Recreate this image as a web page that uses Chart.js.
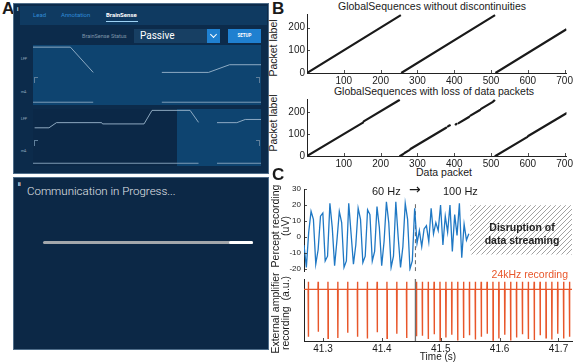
<!DOCTYPE html>
<html>
<head>
<meta charset="utf-8">
<script src="https://cdn.jsdelivr.net/npm/chart.js@4/dist/chart.umd.min.js"></script>
<style>
  body { margin: 0; width: 575px; height: 364px; position: relative; background: #fff; overflow: hidden;
         font-family: 'Liberation Sans', Arial, sans-serif; color: #1a1a1a; }
  .abs { position: absolute; }
  .panel { position: absolute; font-weight: bold; font-size: 17px; line-height: 17px; }
  .txt { position: absolute; white-space: nowrap; font-size: 10.5px; line-height: 12px; }
  .rot { position: absolute; white-space: nowrap; font-size: 10.5px; line-height: 9.5px; text-align: center;
         transform: translate(-50%, -50%) rotate(-90deg); }
  .ui { font-family: Roboto, 'Noto Sans', sans-serif; }
</style>
</head>
<body>

<!-- Panel A (i) : BrainSense screen -->
<div class="panel" style="left:2px;top:0px">A</div>
<div class="abs" style="left:13px;top:3px;width:254px;height:169px;background:#0c2b4b;border:1px solid #4f6d89"></div>
<div class="abs ui" style="left:17px;top:6px;color:#fff;font-size:5px;font-weight:bold">i</div>
<div class="abs" style="left:20px;top:6px;width:247px;height:19px;background:#0f3a61"></div>
<div class="abs ui" style="left:33px;top:11px;color:#2f8ad6;font-size:6px">Lead</div>
<div class="abs ui" style="left:61px;top:11px;color:#2f8ad6;font-size:6px">Annotation</div>
<div class="abs ui" style="left:106px;top:11px;color:#fff;font-size:6px;font-weight:bold">BrainSense</div>
<div class="abs" style="left:106px;top:21px;width:32px;height:1px;background:#9fd3f5"></div>
<div class="abs ui" style="left:82px;top:33px;color:#7d94aa;font-size:5.5px">BrainSense Status</div>
<div class="abs" style="left:134px;top:29px;width:73px;height:14px;background:#173f63"></div>
<div class="abs ui" style="left:140px;top:30px;color:#fff;font-size:10px;line-height:12px">Passive</div>
<div class="abs" style="left:207px;top:29px;width:13px;height:14px;background:#1f80d0"></div>
<div class="abs" style="left:211px;top:32px;width:4px;height:4px;border-right:1px solid #fff;border-bottom:1px solid #fff;transform:rotate(45deg)"></div>
<div class="abs" style="left:228px;top:29px;width:33px;height:14px;background:#1f80d0"></div>
<div class="abs ui" style="left:228px;top:33px;width:33px;text-align:center;color:#fff;font-size:4.5px;font-weight:bold">SETUP</div>
<div class="abs" style="left:33px;top:45px;width:228px;height:60px;background:#0e4470"></div>
<div class="abs" style="left:33px;top:109px;width:144px;height:57px;background:#0b2847"></div>
<div class="abs" style="left:177px;top:109px;width:84px;height:57px;background:#0e4470"></div>
<div class="abs ui" style="left:21px;top:57px;color:#9fb3c6;font-size:3.5px">LFP</div>
<div class="abs ui" style="left:21px;top:90px;color:#9fb3c6;font-size:3.5px">mA</div>
<div class="abs ui" style="left:21px;top:117px;color:#9fb3c6;font-size:3.5px">LFP</div>
<div class="abs ui" style="left:21px;top:149px;color:#9fb3c6;font-size:3.5px">mA</div>
<div class="abs" style="left:34px;top:77px;width:3px;height:5px;border-left:1px solid #5f7f9b;border-top:1px solid #5f7f9b"></div>
<div class="abs" style="left:256px;top:77px;width:3px;height:5px;border-right:1px solid #5f7f9b;border-top:1px solid #5f7f9b"></div>
<div class="abs" style="left:34px;top:140px;width:3px;height:5px;border-left:1px solid #5f7f9b;border-top:1px solid #5f7f9b"></div>
<div class="abs" style="left:256px;top:140px;width:3px;height:5px;border-right:1px solid #5f7f9b;border-top:1px solid #5f7f9b"></div>
<div class="abs" style="left:33px;top:45px"><canvas id="aTop" width="228" height="60"></canvas></div>
<div class="abs" style="left:33px;top:109px"><canvas id="aBot" width="228" height="57"></canvas></div>

<!-- Panel A (ii) : communication screen -->
<div class="abs" style="left:13px;top:177px;width:254px;height:171px;background:#0c2846;border:1px solid #4f6d89"></div>
<div class="abs ui" style="left:18px;top:181px;color:#fff;font-size:5px;font-weight:bold">ii</div>
<div class="abs ui" style="left:27px;top:185px;color:#e2e6ea;font-size:11.5px;font-weight:300;line-height:13px">Communication in Progress...</div>
<div class="abs" style="left:43px;top:241px;width:210px;height:3px;border-radius:2px;background:#a3a7ab"></div>
<div class="abs" style="left:229px;top:241px;width:24px;height:3px;border-radius:2px;background:#fff"></div>

<!-- Panel B -->
<div class="panel" style="left:272px;top:0px">B</div>
<div class="txt" style="left:312px;top:0px;width:240px;text-align:center">GlobalSequences without discontinuities</div>
<div class="txt" style="left:314px;top:85px;width:240px;text-align:center">GlobalSequences with loss of data packets</div>
<div class="txt" style="left:394px;top:166px;width:100px;text-align:center">Data packet</div>
<div class="rot" style="left:274px;top:48px">Packet label</div>
<div class="rot" style="left:274px;top:123px">Packet label</div>
<div class="abs" style="left:266px;top:0px"><canvas id="bTop" width="309" height="88"></canvas></div>
<div class="abs" style="left:266px;top:88px"><canvas id="bBot" width="309" height="82"></canvas></div>

<!-- Panel C -->
<div class="panel" style="left:272px;top:166px">C</div>
<div class="rot" style="left:280px;top:226px">Percept recording<br>(uV)</div>
<div class="rot" style="left:280px;top:313px">External amplifier<br>recording&nbsp; (a.u.)</div>
<div class="abs" style="left:266px;top:180px"><canvas id="cTop" width="309" height="99"></canvas></div>
<div class="abs" style="left:266px;top:279px"><canvas id="cBot" width="309" height="85"></canvas></div>
<div class="txt" style="left:372px;top:185px;font-size:11px">60 Hz</div>
<div class="txt" style="left:409px;top:183px;font-size:14px;font-family:'DejaVu Sans'">&#8594;</div>
<div class="txt" style="left:443px;top:185px;font-size:11px">100 Hz</div>
<div class="txt" style="left:472px;top:221px;width:100px;text-align:center;font-weight:bold;font-size:10.5px;line-height:13px;color:#222">Disruption of<br>data streaming</div>
<div class="txt" style="left:468px;top:268px;width:100px;text-align:right;color:#e8562a">24kHz recording</div>
<div class="txt" style="left:398px;top:351px;width:80px;text-align:center;font-size:10px">Time (s)</div>

<script>
// ---- Panel A: traces shown on the BrainSense screen (x 0-100, y 0-1)
const aTopX = [0, 16.4, 26.4, 26.5, 56.5, 77, 86.2, 100];
const aTopY = [0.983, 0.983, 0.545, null, 0.545, 0.545, 0.678, 0.678];
const aTopBaseX = [0, 26.4, 26.5, 56.5, 100];
const aTopBaseY = [0.028, 0.028, null, 0.028, 0.028];
const aBotX = [0.7, 7.0, 10.3, 30.1, 30.5, 48.7, 52.2, 68.9, 72.6, 72.7, 80.7, 89.4, 93.1, 100];
const aBotY = [0.677, 0.677, 0.771, 0.771, 0.748, 0.748, 0.995, 0.995, 0.776, null, 0.771, 0.771, 0.829, 0.829];
const aBotBaseX = [0, 72.6, 72.7, 80.7, 100];
const aBotBaseY = [0.03, 0.03, null, 0.03, 0.03];

// ---- Panel B: GlobalSequence label vs data packet
// each segment: [first packet, its label, last packet, its label]
const seqTicksX = [100, 200, 300, 400, 500, 600, 700];
const seqTicksY = [0, 100, 200];
const seqFull = [[0, 0, 255, 255], [256, 0, 511, 255], [512, 0, 705, 193]];
const seqLoss = [
  [0, 0, 152, 152], [154, 158, 250, 254],
  [253, 0, 262, 9], [265, 14, 278, 27], [281, 32, 378, 129], [383, 135, 388, 140], [404, 144, 406, 146],
  [412, 150, 440, 178], [444, 184, 470, 210], [473, 215, 505, 247], [507, 251, 509, 253],
  [512, 0, 598, 86], [601, 91, 705, 195]
];

// ---- Panel C: Percept LFP (250 Hz) and external amplifier pulses
const percStart = 41.2677;   // s, first sample
const percStep = 0.004;      // s between samples
const percVals = [
  -5, -19, 3, 16, 11, -17, -8, 13, 15, -15, -12, 21, 6, -18, -2, 16, 9, -19, -15, 21,
  2, -17, -5, 18, 11, -16, -12, 17, 14, -15, -9, 19, 6, -18, -3, 22, 9, -19, -12, 22,
  0, -19, -6, 21, 11, -20, -15, 18,
  -4, 4, -6, 5, 7, -3, 18, 2, 9, 4, 20, -5, 13, 3, 20, -9, 14, 1, 21, -13, 8, -2, 2
];
const percTicksY = [-20, -10, 0, 10, 20, 30];
const timeTicks = [41.3, 41.4, 41.5, 41.6, 41.7];
const switchTime = 41.457;
const lossStart = 41.55;
const hatchTop = 19.8;
const hatchBottom = -11;
const pulseTimes = [
  41.2751, 41.2918, 41.3085, 41.3252, 41.3419, 41.3586, 41.3753, 41.3920, 41.4087, 41.4254, 41.4421, 41.4588,
  41.4688, 41.4788, 41.4888, 41.4988, 41.5088, 41.5188, 41.5288, 41.5388, 41.5488, 41.5588, 41.5688, 41.5788,
  41.5888, 41.5988, 41.6088, 41.6188, 41.6288, 41.6388, 41.6488, 41.6588, 41.6688, 41.6788, 41.6888, 41.6988,
  41.7088, 41.7188
];
const pulseDepth = [
  9.2, 8.2, 9.5, 9.4, 8.4, 9.2, 9.5, 8.3, 9.5, 8.6, 9.4, 9.1,
  9.0, 9.6, 8.7, 9.8, 9.3, 8.8, 9.9, 9.4, 8.9, 9.7, 9.2, 8.6,
  9.8, 9.5, 8.8, 9.9, 9.3, 8.7, 9.6, 9.8, 8.9, 9.4, 9.7, 8.6,
  9.5, 9.2
];
const pulseUp = 1.45;
const tMin = 41.2677, tMax = 41.723;

Chart.defaults.font.family = "'Liberation Sans', Arial, sans-serif";
Chart.defaults.color = '#1a1a1a';

// MATLAB style tick marks pointing into the plot
const inTicks = {
  id: 'inTicks',
  afterDatasetsDraw(chart) {
    const ctx = chart.ctx;
    ctx.save();
    ctx.strokeStyle = '#222';
    ctx.lineWidth = 0.8;
    ['x', 'y'].forEach(k => {
      const s = chart.scales[k];
      if (!s || !s.options.display) return;
      s.ticks.forEach(t => {
        const p = Math.round(s.getPixelForValue(t.value)) + 0.5;
        ctx.beginPath();
        if (k === 'x') { ctx.moveTo(p, s.top); ctx.lineTo(p, s.top - 3); }
        else { ctx.moveTo(s.right, p); ctx.lineTo(s.right + 3, p); }
        ctx.stroke();
      });
    });
    ctx.restore();
  }
};

function pairs(xs, ys) {
  return xs.map((x, i) => ({ x: x, y: ys[i] }));
}

function segPoints(segs) {
  const pts = [];
  segs.forEach(s => {
    pts.push({ x: s[0], y: s[1] }, { x: s[2], y: s[3] }, { x: s[2] + 0.1, y: null });
  });
  return pts;
}

function baseOpts(extra) {
  return Object.assign({
    responsive: false,
    animation: false,
    devicePixelRatio: 1,
    plugins: { legend: { display: false }, tooltip: { enabled: false } },
    elements: { point: { radius: 0 } }
  }, extra);
}

// ---- A mini traces
function aChart(id, lineX, lineY, baseX, baseY) {
  new Chart(document.getElementById(id), {
    type: 'line',
    data: {
      datasets: [
        { data: pairs(lineX, lineY), borderColor: '#9cb7cd', borderWidth: 0.9, spanGaps: false },
        { data: pairs(baseX, baseY), borderColor: '#8aa6bf', borderWidth: 0.9, spanGaps: false }
      ]
    },
    options: baseOpts({
      layout: { padding: 0 },
      scales: {
        x: { type: 'linear', display: false, min: 0, max: 100 },
        y: { display: false, min: -0.02, max: 1.02 }
      }
    })
  });
}
aChart('aTop', aTopX, aTopY, aTopBaseX, aTopBaseY);
aChart('aBot', aBotX, aBotY, aBotBaseX, aBotBaseY);

// ---- B charts
function seqChart(id, segs, padTop, xHeight, round) {
  new Chart(document.getElementById(id), {
    type: 'line',
    data: {
      datasets: [{
        data: segPoints(segs), borderColor: '#1a1a1a', borderWidth: 2.2, spanGaps: false,
        borderCapStyle: round ? 'round' : 'butt'
      }]
    },
    options: baseOpts({
      layout: { padding: { top: padTop, right: 3, left: 0, bottom: 0 } },
      scales: {
        x: {
          type: 'linear', min: 0, max: 705,
          grid: { display: false, drawTicks: false },
          border: { display: true, color: '#222', width: 1 },
          ticks: { autoSkip: false, maxRotation: 0, padding: 2, font: { size: 10 } },
          afterBuildTicks: s => { s.ticks = seqTicksX.map(v => ({ value: v })); },
          afterFit: s => { s.height = xHeight; }
        },
        y: {
          min: 0, max: 260,
          grid: { display: false, drawTicks: false },
          border: { display: true, color: '#222', width: 1 },
          ticks: { padding: 2, font: { size: 10 } },
          afterBuildTicks: s => { s.ticks = seqTicksY.map(v => ({ value: v })); },
          afterFit: s => { s.width = 41; }
        }
      }
    }),
    plugins: [inTicks]
  });
}
seqChart('bTop', seqFull, 14, 15, false);
seqChart('bBot', seqLoss, 11, 14, true);

// ---- C top: Percept recording
const hatchCanvas = document.createElement('canvas');
hatchCanvas.width = 5; hatchCanvas.height = 5;
const hctx = hatchCanvas.getContext('2d');
hctx.strokeStyle = '#7a7a7a';
hctx.lineWidth = 0.7;
hctx.beginPath();
hctx.moveTo(0, 5); hctx.lineTo(5, 0);
hctx.moveTo(-1, 1); hctx.lineTo(1, -1);
hctx.moveTo(4, 6); hctx.lineTo(6, 4);
hctx.stroke();

const cTopCanvas = document.getElementById('cTop');
const hatch = cTopCanvas.getContext('2d').createPattern(hatchCanvas, 'repeat');

new Chart(cTopCanvas, {
  type: 'line',
  data: {
    datasets: [
      {
        data: percVals.map((v, i) => ({ x: percStart + i * percStep, y: v })),
        borderColor: '#1f78c4', borderWidth: 1.3, order: 1
      },
      {
        data: [{ x: switchTime, y: -21.4 }, { x: switchTime, y: 22 }],
        borderColor: '#666', borderWidth: 1, borderDash: [4, 3], order: 2
      },
      {
        data: [{ x: lossStart, y: hatchTop }, { x: tMax, y: hatchTop }],
        borderWidth: 0, fill: { value: hatchBottom }, backgroundColor: hatch, order: 3
      }
    ]
  },
  options: baseOpts({
    layout: { padding: { top: 9, right: 3, left: 0, bottom: 1 } },
    scales: {
      x: { type: 'linear', display: false, min: tMin, max: tMax },
      y: {
        min: -21.4, max: 30,
        grid: { display: false, drawTicks: false },
        border: { display: true, color: '#222', width: 1 },
        ticks: { padding: 3, font: { size: 8 } },
        afterBuildTicks: s => { s.ticks = percTicksY.map(v => ({ value: v })); },
        afterFit: s => { s.width = 38; }
      }
    }
  }),
  plugins: [inTicks]
});

// ---- C bottom: external amplifier pulses
const ampPts = [{ x: tMin, y: 0 }];
pulseTimes.forEach((t, i) => {
  ampPts.push(
    { x: t - 0.0004, y: 0 },
    { x: t - 0.0001, y: pulseUp },
    { x: t + 0.0001, y: -pulseDepth[i] },
    { x: t + 0.0005, y: 0 }
  );
});
ampPts.push({ x: tMax, y: 0 });

new Chart(document.getElementById('cBot'), {
  type: 'line',
  data: {
    datasets: [
      { data: [{ x: switchTime, y: 2 }, { x: switchTime, y: -10 }], borderColor: '#707070', borderWidth: 1.3, order: 1 },
      { data: ampPts, borderColor: '#e8562a', borderWidth: 1.4, order: 2 }
    ]
  },
  options: baseOpts({
    layout: { padding: { top: 0, right: 3, left: 0, bottom: 0 } },
    scales: {
      x: {
        type: 'linear', min: tMin, max: tMax,
        grid: { display: false, drawTicks: false },
        border: { display: true, color: '#222', width: 1 },
        ticks: { autoSkip: false, maxRotation: 0, padding: 2, font: { size: 10 }, callback: v => v.toFixed(1) },
        afterBuildTicks: s => { s.ticks = timeTicks.map(v => ({ value: v })); },
        afterFit: s => { s.height = 23; }
      },
      y: {
        min: -10, max: 2,
        grid: { display: false, drawTicks: false },
        border: { display: true, color: '#222', width: 1 },
        ticks: { display: false },
        afterBuildTicks: s => { s.ticks = []; },
        afterFit: s => { s.width = 38; }
      }
    }
  }),
  plugins: [inTicks]
});
</script>
</body>
</html>
